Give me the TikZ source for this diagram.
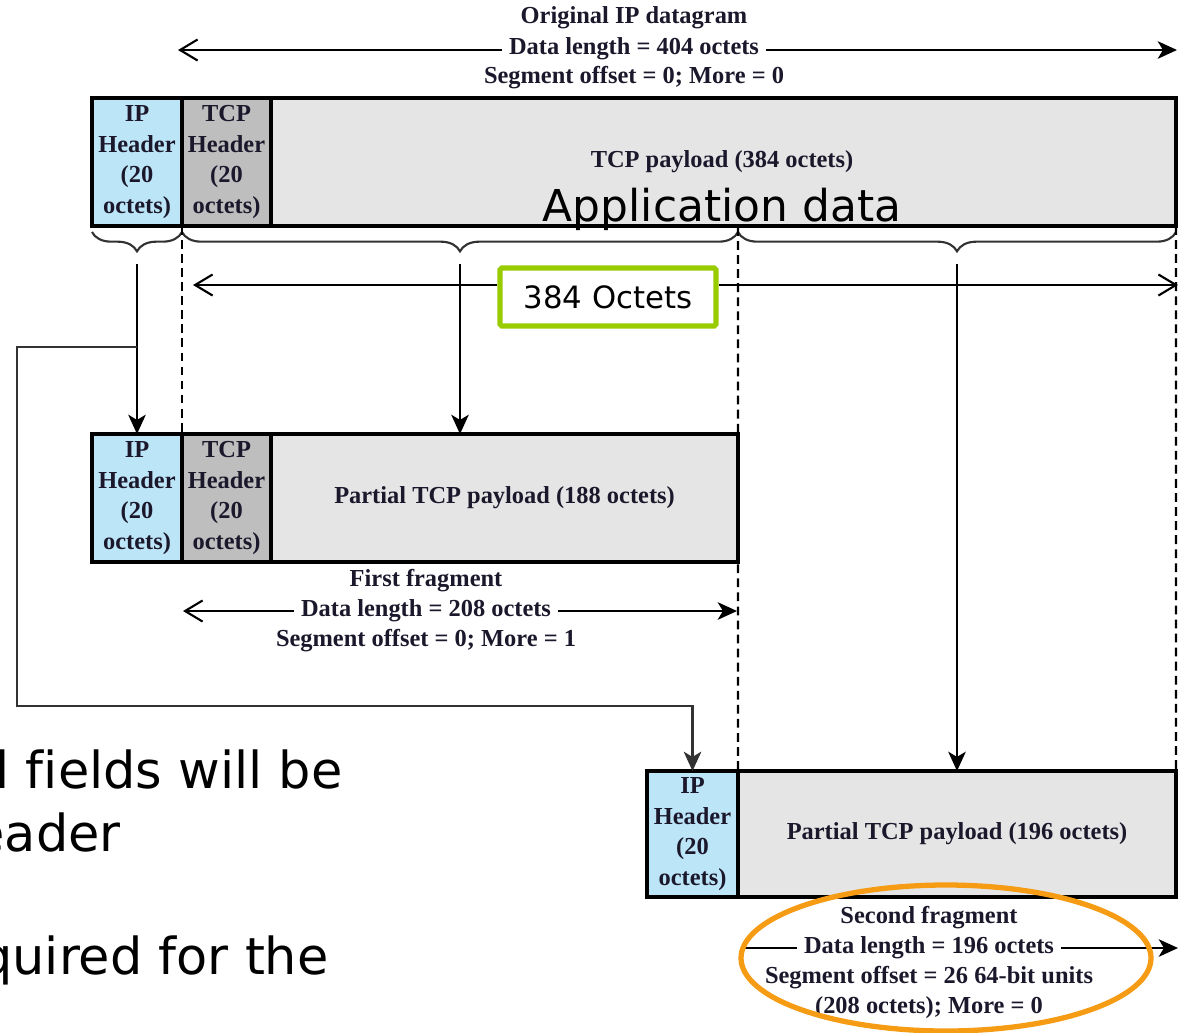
\documentclass[tikz,border=0pt]{standalone}
\usepackage{fontspec}
\newfontfamily\figfont{Liberation Serif}
\newfontfamily\slidefont[Ligatures=NoCommon]{DejaVu Sans}
\usetikzlibrary{arrows.meta,decorations.pathreplacing,shapes.geometric}
\definecolor{ipblue}{RGB}{189,229,248}
\definecolor{tcpgray}{RGB}{190,190,190}
\definecolor{paygray}{RGB}{229,229,229}
\definecolor{figink}{RGB}{28,24,44}
\definecolor{okgreen}{RGB}{153,204,0}
\definecolor{ringorange}{RGB}{245,155,20}
\definecolor{conngray}{RGB}{50,50,50}
\begin{document}
\begin{tikzpicture}[x=0.02cm,y=-0.02cm,
  figtxt/.style={font=\figfont\bfseries\fontsize{13.9}{17.4}\selectfont, text=figink, align=center, inner sep=4pt},
  cell/.style={draw=black, line width=1.9pt, anchor=north west, inner sep=0pt, outer sep=0pt,
    font=\figfont\bfseries\fontsize{13.9}{17.4}\selectfont, text=figink, align=center},
  solidarrow/.style={draw=black, line width=1.2pt, -{Stealth[length=11pt,width=10pt,inset=3pt]}},
  openarrow/.style={draw=black, line width=1.2pt, -{Straight Barb[length=10pt,width=12pt]}},
  plainline/.style={draw=black, line width=1.2pt},
  dashline/.style={draw=black, line width=1.2pt, dash pattern=on 5pt off 3pt},
  bracestyle/.style={draw=conngray, line width=1.2pt, decorate, decoration={brace, mirror, amplitude=11pt}},
  connline/.style={draw=conngray, line width=1.3pt},
  greenbox/.style={draw=okgreen, line width=2.9pt, fill=white, rounded corners=1pt,
    minimum width={216*0.02cm}, minimum height={58*0.02cm}, font=\slidefont\fontsize{17.5}{21}\selectfont},
  slidetxt/.style={font=\slidefont\fontsize{29}{34}\selectfont, inner sep=0pt, anchor=base east}
]
\useasboundingbox (0,0) rectangle (1179,1032);

% ---------- original datagram ----------
\node[cell, fill=ipblue, minimum width={90*0.02cm}, minimum height={128*0.02cm}] (ip1) at (92,98) {IP\\Header\\(20\\octets)};
\node[cell, fill=tcpgray, minimum width={89*0.02cm}, minimum height={128*0.02cm}] (tcp1) at (182,98) {TCP\\Header\\(20\\octets)};
\node[cell, fill=paygray, minimum width={905*0.02cm}, minimum height={128*0.02cm}] (pay1) at (271,98) {};
\node[figtxt] (pl1) at (722,162) {TCP payload (384 octets)};
\node[font=\slidefont\fontsize{25}{30}\selectfont, inner sep=0pt, anchor=base] (app) at (722,221) {Application data};

% top labels
\node[figtxt] (t1) at (634,18) {Original IP datagram};
\node[figtxt] (t2) at (634,49) {Data length = 404 octets};
\node[figtxt] (t3) at (634,78) {Segment offset = 0; More = 0};
\coordinate (tl) at (178,50);
\coordinate (tr) at (1177,50);
\draw[openarrow] (t2.west |- tl) -- (tl);
\draw[solidarrow] (t2.east |- tr) -- (tr);

% braces
\draw[bracestyle] (92,232) -- (182,232);
\draw[bracestyle] (182,232) -- (738,232);
\draw[bracestyle] (738,232) -- (1176,232);

% ---------- first fragment ----------
\node[cell, fill=ipblue, minimum width={90*0.02cm}, minimum height={128*0.02cm}] (ip2) at (92,434) {IP\\Header\\(20\\octets)};
\node[cell, fill=tcpgray, minimum width={89*0.02cm}, minimum height={128*0.02cm}] (tcp2) at (182,434) {TCP\\Header\\(20\\octets)};
\node[cell, fill=paygray, minimum width={467*0.02cm}, minimum height={128*0.02cm}] (pay2) at (271,434) {Partial TCP payload (188 octets)};

\node[figtxt] (f1) at (426,581) {First fragment};
\node[figtxt] (f2) at (426,611) {Data length = 208 octets};
\node[figtxt] (f3) at (426,641) {Segment offset = 0; More = 1};
\coordinate (fl) at (183,611);
\coordinate (fr) at (737,611);
\draw[openarrow] (f2.west) -- (fl);
\draw[solidarrow] (f2.east) -- (fr);

% ---------- second fragment ----------
\node[cell, fill=ipblue, minimum width={91*0.02cm}, minimum height={126*0.02cm}] (ip3) at (647,771) {IP\\Header\\(20\\octets)};
\node[cell, fill=paygray, minimum width={438*0.02cm}, minimum height={126*0.02cm}] (pay3) at (738,771) {Partial TCP payload (196 octets)};

\node[figtxt] (s1) at (929,918) {Second fragment};
\node[figtxt] (s2) at (929,948) {Data length = 196 octets};
\node[figtxt] (s3) at (929,978) {Segment offset = 26 64-bit units};
\node[figtxt] (s4) at (929,1008) {(208 octets); More = 0};
\coordinate (sl) at (742,948);
\coordinate (sr) at (1178,948);
\draw[plainline] (s2.west) -- (sl);
\draw[solidarrow] (s2.east) -- (sr);

% ---------- dashed guides ----------
\coordinate (d2) at (738,227);
\draw[dashline] (ip1.south east) -- (ip2.north east);
\draw[dashline] (d2) -- (ip3.north east);
\draw[dashline] (pay1.south east) -- (pay3.north east);

% ---------- vertical arrows ----------
\coordinate (a1) at (137,264);
\coordinate (a2) at (460,264);
\coordinate (a3) at (957,264);
\draw[solidarrow] (a1) -- (a1 |- ip2.north);
\draw[solidarrow] (a2) -- (a2 |- pay2.north);
\draw[solidarrow] (a3) -- (a3 |- pay3.north);

% 384 octets
\node[greenbox] (oct) at (608,297) {384 Octets};
\coordinate (ol) at (193,285);
\coordinate (or) at (1178,285);
\draw[openarrow] (oct.west |- ol) -- (ol);
\draw[openarrow] (oct.east |- or) -- (or);

% routing connector
\coordinate (c1) at (137,347);
\coordinate (c2) at (17,706);
\draw[connline, -{Stealth[length=11pt,width=10pt,inset=3pt]}] (c1) -| (c2) -| (ip3.north);

% ring
\node[draw=ringorange, line width=3pt, ellipse, minimum width={410*0.02cm}, minimum height={146*0.02cm}, inner sep=0pt] (ring) at (946,958) {};

% clipped slide text (cut at the left edge as in the reference)
\begin{scope}
\clip (0,0) rectangle (1179,1032);
\node[slidetxt] (lt1) at (343,788) {l fields will be};
\node[slidetxt] (lt2) at (121,851) {eader};
\node[slidetxt] (lt3) at (329,974) {quired for the};
\end{scope}
\end{tikzpicture}
\end{document}
